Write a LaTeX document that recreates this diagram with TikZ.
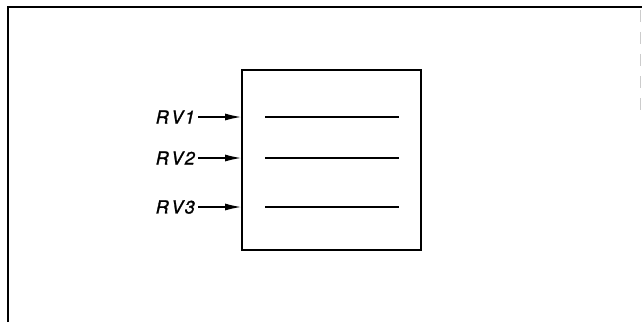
\documentclass[tikz,border=0pt]{standalone}
\usepackage{fontspec}
\setmainfont{TeX Gyre Heros}
\usetikzlibrary{arrows.meta}
\tikzset{
  frameline/.style={line width=1.8pt, black},
  regbox/.style={draw, line width=1.8pt, minimum width=179pt, minimum height=180pt, inner sep=0pt},
  rowline/.style={line width=1.4pt},
  inarrow/.style={line width=1.3pt, -{Latex[length=16pt,width=7pt]}},
  rvlabel/.style={anchor=east, inner sep=0pt, font=\fontsize{18}{20}\selectfont\itshape}
}
\begin{document}
\begin{tikzpicture}[x=1pt,y=1pt]
  \useasboundingbox (0,0) rectangle (642,322);
  % outer frame
  \coordinate (ftl) at (8,315);
  \coordinate (ftr) at (642,315);
  \coordinate (fbl) at (8,0);
  \draw[frameline] (fbl) -- (ftl) -- (ftr);
  \coordinate (frt) at (640.5,312);
  \coordinate (frb) at (640.5,212);
  \draw[black!20, line width=0.8pt, dash pattern=on 12pt off 10pt] (frt) -- (frb);
  % register box
  \node[regbox] (box) at (331.5,162) {};
  % rows
  \foreach \n/\y in {1/205,2/164,3/115}{
    \coordinate (l\n) at (265,\y);
    \coordinate (r\n) at (399,\y);
    \draw[rowline] (l\n) -- (r\n);
    \coordinate (a\n) at (198,\y);
    \coordinate (e\n) at (box.west |- a\n);
    \draw[inarrow] (a\n) -- (e\n);
    \node[rvlabel] (rv\n) at (195,\y) {\addfontfeature{FakeBold=1.5}R\kern2.5pt V\kern1.5pt\n};
  }
\end{tikzpicture}
\end{document}
